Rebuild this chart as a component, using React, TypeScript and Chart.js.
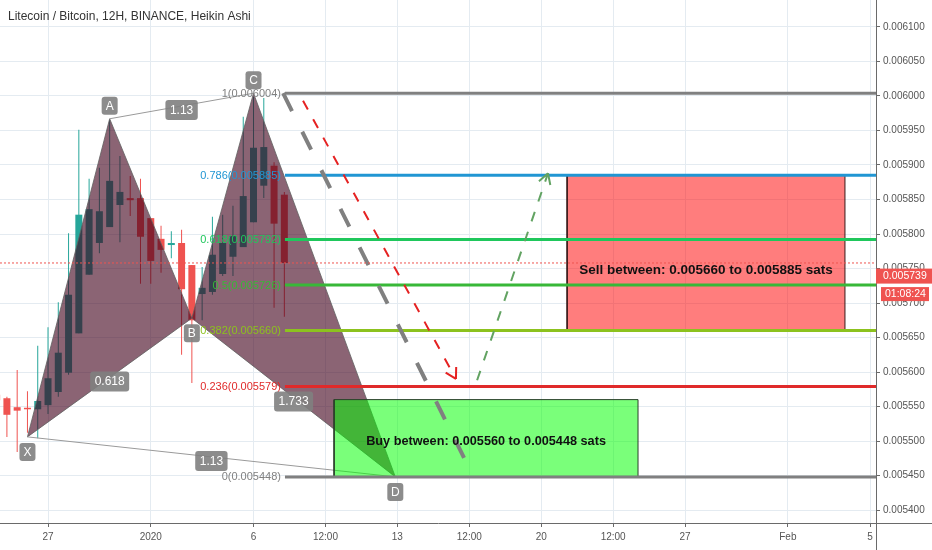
import React, { useEffect, useRef } from "react";
import { Chart, registerables } from "chart.js";

Chart.register(...registerables);

const TITLE = "Litecoin / Bitcoin, 12H, BINANCE, Heikin Ashi";

// x values: days counted from 27 Dec 2019 00:00 (12H Heikin Ashi candles)
const X_MIN = -2.336;
const X_MAX = 40.29;
const X_TICKS = [0, 5, 10, 13.5, 17, 20.5, 24, 27.5, 31, 36, 40];
const X_TICK_LABELS = ["27", "2020", "6", "12:00", "13", "12:00", "20", "12:00", "27", "Feb", "5"];

const Y_MIN = 0.0053812;
const Y_MAX = 0.0061391;
const Y_TICKS = [0.0054, 0.00545, 0.0055, 0.00555, 0.0056, 0.00565, 0.0057, 0.00575, 0.0058, 0.00585, 0.0059, 0.00595, 0.006, 0.00605, 0.0061];

const CANDLE_T = [-2.5, -2, -1.5, -1, -0.5, 0, 0.5, 1, 1.5, 2, 2.5, 3, 3.5, 4, 4.5, 5, 5.5, 6, 6.5, 7, 7.5, 8, 8.5, 9, 9.5, 10, 10.5, 11, 11.5];
const OPEN = [0.005567, 0.005562, 0.005549, 0.005547, 0.005546, 0.005552, 0.005571, 0.005599, 0.005656, 0.005741, 0.005787, 0.00581, 0.005842, 0.005852, 0.005852, 0.005823, 0.005793, 0.005784, 0.005787, 0.005755, 0.005713, 0.005716, 0.005742, 0.005767, 0.005781, 0.005817, 0.00587, 0.005899, 0.005857];
const HIGH = [0.005572, 0.005564, 0.005603, 0.005572, 0.005638, 0.005665, 0.005701, 0.005801, 0.005951, 0.00588, 0.005896, 0.005965, 0.005913, 0.005884, 0.00588, 0.005823, 0.005812, 0.005804, 0.005806, 0.005755, 0.005752, 0.005825, 0.005828, 0.005841, 0.00597, 0.005999, 0.005997, 0.005904, 0.005861];
const LOW = [0.00555, 0.005506, 0.005484, 0.005512, 0.005504, 0.005539, 0.005564, 0.005596, 0.005656, 0.005741, 0.005772, 0.00581, 0.005788, 0.005826, 0.005728, 0.005728, 0.005744, 0.005765, 0.005625, 0.005584, 0.005675, 0.005712, 0.005739, 0.005739, 0.005781, 0.005817, 0.005852, 0.005693, 0.00568];
const CLOSE = [0.005559, 0.005538, 0.005544, 0.005546, 0.005558, 0.005591, 0.005628, 0.005712, 0.005828, 0.005836, 0.005833, 0.005877, 0.005861, 0.005849, 0.005796, 0.005761, 0.005777, 0.005787, 0.00572, 0.005675, 0.005722, 0.00577, 0.005787, 0.005797, 0.005855, 0.005925, 0.005926, 0.005815, 0.005758];

// XABCD harmonic pattern
const PATTERN_NAMES = ["X", "A", "B", "C", "D"];
const PATTERN_T = [-1, 3, 7, 10, 16.9];
const PATTERN_P = [0.005506, 0.005967, 0.005678, 0.006004, 0.005448];
const PATTERN_LABEL_ABOVE = [false, true, false, true, false];
const RATIO_TEXT = ["1.13", "0.618", "1.733", "1.13"];
const RATIO_FROM = [1, 0, 2, 0];
const RATIO_TO = [3, 2, 4, 4];

// Fibonacci retracement C -> D
const FIB_START = 11.53;
const FIB_RATIOS = ["1", "0.786", "0.618", "0.5", "0.382", "0.236", "0"];
const FIB_PRICES = [0.006004, 0.005885, 0.005792, 0.005726, 0.00566, 0.005579, 0.005448];
const FIB_COLORS = ["#808080", "#2196d3", "#1fc75c", "#38b838", "#8cc21e", "#e02a2a", "#808080"];

// zones
const BUY_T = [13.92, 28.71];
const BUY_P = [0.005448, 0.00556];
const BUY_TEXT = "Buy between: 0.005560 to 0.005448 sats";
const BUY_TEXT_P = 0.0055;
const SELL_T = [25.26, 38.78];
const SELL_P = [0.00566, 0.005885];
const SELL_TEXT = "Sell between: 0.005660 to 0.005885 sats";
const SELL_TEXT_P = 0.005748;

// projection lines
const GRAY_DASH_T = [11.44, 20.44];
const GRAY_DASH_P = [0.006004, 0.005464];
const RED_DASH_T = [12.41, 19.85];
const RED_DASH_P = [0.005993, 0.00559];
const GREEN_DASH_T = [20.88, 24.33];
const GREEN_DASH_P = [0.005588, 0.005888];

const LAST_PRICE = 0.005739;
const COUNTDOWN = "01:08:24";

const UP = "#26a69a";
const DOWN = "#ef5350";
const PATTERN_FILL = "rgba(66,1,27,0.61)";
const LABEL_BG = "rgba(128,128,128,0.9)";
const FONT = '"Liberation Sans", Arial, sans-serif';

function pt(t: number, p: number) {
  return { x: t, y: p };
}

function roundRect(ctx: CanvasRenderingContext2D, x: number, y: number, w: number, h: number, r: number) {
  ctx.beginPath();
  ctx.moveTo(x + r, y);
  ctx.arcTo(x + w, y, x + w, y + h, r);
  ctx.arcTo(x + w, y + h, x, y + h, r);
  ctx.arcTo(x, y + h, x, y, r);
  ctx.arcTo(x, y, x + w, y, r);
  ctx.closePath();
}

function arrowHead(ctx: CanvasRenderingContext2D, fx: number, fy: number, tx: number, ty: number, color: string) {
  const ang = Math.atan2(fy - ty, fx - tx);
  const len = 12;
  ctx.save();
  ctx.setLineDash([]);
  ctx.strokeStyle = color;
  ctx.lineWidth = 2;
  ctx.lineCap = "butt";
  ctx.beginPath();
  for (const s of [-1, 1]) {
    const a = ang + (s * Math.PI) / 6;
    ctx.moveTo(tx, ty);
    ctx.lineTo(tx + len * Math.cos(a), ty + len * Math.sin(a));
  }
  ctx.stroke();
  ctx.restore();
}

const annotationPlugin = {
  id: "tvAnnotations",
  afterDatasetsDraw(chart: any) {
    const ctx: CanvasRenderingContext2D = chart.ctx;
    const xs = chart.scales.x;
    const ys = chart.scales.y;
    const px = (v: number) => xs.getPixelForValue(v);
    const py = (v: number) => ys.getPixelForValue(v);
    const ca = chart.chartArea;
    ctx.save();
    ctx.beginPath();
    ctx.rect(ca.left, ca.top, ca.right - ca.left, ca.bottom - ca.top);
    ctx.clip();

    // arrow heads
    arrowHead(ctx, px(RED_DASH_T[0]), py(RED_DASH_P[0]), px(RED_DASH_T[1]), py(RED_DASH_P[1]), "#e52222");
    arrowHead(ctx, px(GREEN_DASH_T[0]), py(GREEN_DASH_P[0]), px(GREEN_DASH_T[1]), py(GREEN_DASH_P[1]), "#62a362");

    // fib labels
    ctx.font = `11px ${FONT}`;
    ctx.textAlign = "right";
    ctx.textBaseline = "middle";
    FIB_RATIOS.forEach((r, i) => {
      ctx.fillStyle = FIB_COLORS[i];
      ctx.fillText(`${r}(${FIB_PRICES[i].toFixed(6)})`, px(FIB_START) - 4, py(FIB_PRICES[i]) + 0.5);
    });

    // ratio labels
    ctx.font = `12px ${FONT}`;
    ctx.textAlign = "center";
    RATIO_TEXT.forEach((txt, k) => {
      const a = RATIO_FROM[k];
      const b = RATIO_TO[k];
      const mx = (px(PATTERN_T[a]) + px(PATTERN_T[b])) / 2;
      const my = (py(PATTERN_P[a]) + py(PATTERN_P[b])) / 2 + 4;
      const w = ctx.measureText(txt).width + 9;
      const h = 20;
      ctx.fillStyle = LABEL_BG;
      roundRect(ctx, mx - w / 2, my - h / 2, w, h, 3);
      ctx.fill();
      ctx.fillStyle = "#ffffff";
      ctx.fillText(txt, mx, my + 0.5);
    });

    // point labels
    PATTERN_NAMES.forEach((name, i) => {
      const x = px(PATTERN_T[i]);
      const y = py(PATTERN_P[i]);
      const w = 16;
      const h = 18;
      const top = PATTERN_LABEL_ABOVE[i] ? y - 4 - h : y + 6;
      ctx.fillStyle = LABEL_BG;
      roundRect(ctx, x - w / 2, top, w, h, 3);
      ctx.fill();
      ctx.fillStyle = "#ffffff";
      ctx.fillText(name, x, top + h / 2 + 0.5);
    });

    // zone texts
    ctx.fillStyle = "#111111";
    ctx.font = `bold 13.5px ${FONT}`;
    ctx.fillText(SELL_TEXT, (px(SELL_T[0]) + px(SELL_T[1])) / 2, py(SELL_TEXT_P));
    ctx.font = `bold 12.7px ${FONT}`;
    ctx.fillText(BUY_TEXT, (px(BUY_T[0]) + px(BUY_T[1])) / 2, py(BUY_TEXT_P));

    ctx.restore();
  },
  afterDraw(chart: any) {
    const ctx: CanvasRenderingContext2D = chart.ctx;
    const ca = chart.chartArea;
    const ys = chart.scales.y;
    const W = chart.width;
    const H = chart.height;
    ctx.save();
    // axis line extensions
    ctx.strokeStyle = "#6a6a6a";
    ctx.lineWidth = 1;
    ctx.beginPath();
    ctx.moveTo(ca.right, Math.round(ca.bottom) + 0.5);
    ctx.lineTo(W, Math.round(ca.bottom) + 0.5);
    ctx.moveTo(Math.round(ca.right) + 0.5, ca.bottom);
    ctx.lineTo(Math.round(ca.right) + 0.5, H);
    ctx.stroke();

    // last price label
    const yl = ys.getPixelForValue(LAST_PRICE);
    ctx.fillStyle = "#ef5350";
    ctx.fillRect(ca.right, yl - 7.5, W - ca.right, 15);
    ctx.fillRect(ca.right + 5, yl + 11, 48, 14);
    ctx.fillStyle = "#ffffff";
    ctx.font = `10.5px ${FONT}`;
    ctx.textAlign = "left";
    ctx.textBaseline = "middle";
    ctx.fillText(LAST_PRICE.toFixed(6), ca.right + 7, yl + 0.5);
    ctx.fillText(COUNTDOWN, ca.right + 9, yl + 18.5);

    // title
    ctx.font = `12px ${FONT}`;
    ctx.fillStyle = "#333333";
    ctx.textBaseline = "alphabetic";
    ctx.fillText(TITLE, 8, 20);
    ctx.restore();
  },
};

export default function App() {
  const ref = useRef<HTMLCanvasElement | null>(null);

  useEffect(() => {
    document.body.style.margin = "0";
    const canvas = ref.current;
    if (!canvas) return;

    const candleColors = CANDLE_T.map((_, i) => (CLOSE[i] >= OPEN[i] ? UP : DOWN));
    const line = (data: any[], color: string, width: number, order: number, extra: any = {}) => ({
      type: "line",
      data,
      borderColor: color,
      borderWidth: width,
      pointRadius: 0,
      tension: 0,
      fill: false,
      order,
      ...extra,
    });
    const P = (i: number) => pt(PATTERN_T[i], PATTERN_P[i]);
    const rect = (t: number[], p: number[]) => [pt(t[0], p[0]), pt(t[1], p[0]), pt(t[1], p[1]), pt(t[0], p[1]), pt(t[0], p[0])];
    const lastHA = CLOSE[CLOSE.length - 1];

    const datasets: any[] = [
      {
        type: "bar",
        data: CANDLE_T.map((t, i) => ({ x: t, y: [LOW[i], HIGH[i]] })),
        backgroundColor: candleColors,
        barThickness: 1,
        grouped: false,
        inflateAmount: 0,
        borderWidth: 0,
        order: 100,
      },
      {
        type: "bar",
        data: CANDLE_T.map((t, i) => ({ x: t, y: [Math.min(OPEN[i], CLOSE[i]), Math.max(OPEN[i], CLOSE[i])] })),
        backgroundColor: candleColors,
        barThickness: 7,
        minBarLength: 1.5,
        grouped: false,
        inflateAmount: 0,
        borderWidth: 0,
        order: 99,
      },
      line([P(0), P(1), P(2), P(0)], "rgba(95,95,95,0.8)", 1, 90, { fill: "shape", backgroundColor: PATTERN_FILL }),
      line([P(2), P(3), P(4), P(2)], "rgba(95,95,95,0.8)", 1, 90, { fill: "shape", backgroundColor: PATTERN_FILL }),
      line([P(1), P(3)], "#9a9a9a", 1, 88),
      line([P(0), P(4)], "#9a9a9a", 1, 88),
      line(rect(BUY_T, BUY_P), "#2a3f2a", 1, 80, { fill: "shape", backgroundColor: "rgba(0,255,0,0.52)" }),
      line(rect(SELL_T, SELL_P), "#3a1a1a", 1, 80, { fill: "shape", backgroundColor: "rgba(255,0,0,0.51)" }),
      ...FIB_PRICES.map((p, i) => line([pt(FIB_START, p), pt(X_MAX, p)], FIB_COLORS[i], 3, 70)),
      line([pt(GRAY_DASH_T[0], GRAY_DASH_P[0]), pt(GRAY_DASH_T[1], GRAY_DASH_P[1])], "#808080", 4, 60, { borderDash: [20, 23] }),
      line([pt(RED_DASH_T[0], RED_DASH_P[0]), pt(RED_DASH_T[1], RED_DASH_P[1])], "#e52222", 2, 60, { borderDash: [10, 11] }),
      line([pt(GREEN_DASH_T[0], GREEN_DASH_P[0]), pt(GREEN_DASH_T[1], GREEN_DASH_P[1])], "#62a362", 2, 60, { borderDash: [10, 11] }),
      line([pt(X_MIN, lastHA), pt(X_MAX, lastHA)], "#ef5350", 1, 50, { borderDash: [2, 2] }),
    ];

    const tickFont = { family: FONT, size: 10 };
    const chart = new Chart(canvas, {
      type: "line",
      data: { datasets },
      plugins: [annotationPlugin],
      options: {
        responsive: false,
        devicePixelRatio: 1,
        animation: false,
        events: [],
        layout: { padding: 0 },
        plugins: { legend: { display: false }, tooltip: { enabled: false }, title: { display: false } },
        scales: {
          x: {
            type: "linear",
            min: X_MIN,
            max: X_MAX,
            offset: false,
            bounds: "data",
            afterBuildTicks: (s: any) => {
              s.ticks = X_TICKS.map((v) => ({ value: v }));
            },
            afterFit: (s: any) => {
              s.height = 27;
              s.paddingLeft = 0;
              s.paddingRight = 0;
            },
            ticks: {
              autoSkip: false,
              maxRotation: 0,
              minRotation: 0,
              padding: 4,
              color: "#555555",
              font: tickFont,
              callback: (_v: any, i: number) => X_TICK_LABELS[i],
            },
            grid: { offset: false, color: "#e4ebf1", tickColor: "#6a6a6a", tickLength: 4, drawTicks: true },
            border: { color: "#6a6a6a", width: 1 },
          },
          y: {
            type: "linear",
            position: "right",
            min: Y_MIN,
            max: Y_MAX,
            bounds: "data",
            afterBuildTicks: (s: any) => {
              s.ticks = Y_TICKS.map((v) => ({ value: v }));
            },
            afterFit: (s: any) => {
              s.width = 56;
              s.paddingTop = 0;
              s.paddingBottom = 0;
            },
            ticks: {
              padding: 3,
              color: "#555555",
              font: tickFont,
              callback: (v: any) => Number(v).toFixed(6),
            },
            grid: { offset: false, color: "#e4ebf1", tickColor: "#6a6a6a", tickLength: 4, drawTicks: true },
            border: { color: "#6a6a6a", width: 1 },
          },
        },
      } as any,
    } as any);

    return () => chart.destroy();
  }, []);

  return (
    <div style={{ width: 932, height: 550, position: "relative" }}>
      <canvas ref={ref} width={932} height={550} style={{ display: "block", width: 932, height: 550 }} />
    </div>
  );
}
